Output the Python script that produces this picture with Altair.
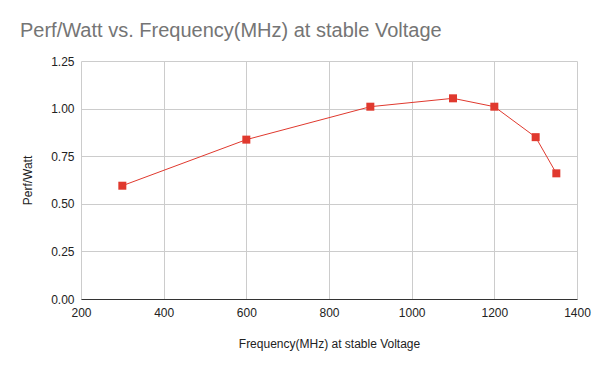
import altair as alt
import pandas as pd

freq = [300, 600, 900, 1100, 1200, 1300, 1350]
perf_watt = [0.595, 0.837, 1.010, 1.054, 1.010, 0.850, 0.660]

df = pd.DataFrame({"freq": freq, "pw": perf_watt})

RED = "#e0392e"

base = alt.Chart(df).encode(
    x=alt.X("freq:Q", scale=alt.Scale(domain=[200, 1400], nice=False),
            axis=alt.Axis(values=[200, 400, 600, 800, 1000, 1200, 1400],
                          format="d", labelFlush=False,
                          title="Frequency(MHz) at stable Voltage",
                          titlePadding=20, labelPadding=8)),
    y=alt.Y("pw:Q", scale=alt.Scale(domain=[0, 1.25], nice=False),
            axis=alt.Axis(values=[0, 0.25, 0.5, 0.75, 1.0, 1.25], format=".2f",
                          labelFlush=False,
                          title="Perf/Watt", titlePadding=16, labelPadding=7)),
)

line = base.mark_line(color=RED, strokeWidth=1)
pts = base.mark_point(shape="square", filled=True, size=64, color=RED, opacity=1)

chart = (line + pts).properties(
    width=496, height=238,
    autosize=alt.AutoSizeParams(type="none"),
    padding={"left": 73, "top": 53, "right": 15, "bottom": 64},
    title=alt.TitleParams(
        "Perf/Watt vs. Frequency(MHz) at stable Voltage",
        anchor="start", frame="group", dx=-61, offset=14, fontSize=20,
        fontWeight="normal", color="#757575", font="Liberation Sans",
    ),
).configure_view(stroke=None).configure_axis(
    labelFont="Liberation Sans", titleFont="Liberation Sans",
    labelFontSize=12, titleFontSize=12, labelColor="#222222", titleColor="#222222",
    titleFontWeight="normal", gridColor="#cccccc", tickSize=0, domain=False,
).configure_axisX(domain=True, domainColor="#333333").configure_axisY(
    grid=True
)

chart.save("out.html", embed_options={"renderer": "svg", "actions": False})
